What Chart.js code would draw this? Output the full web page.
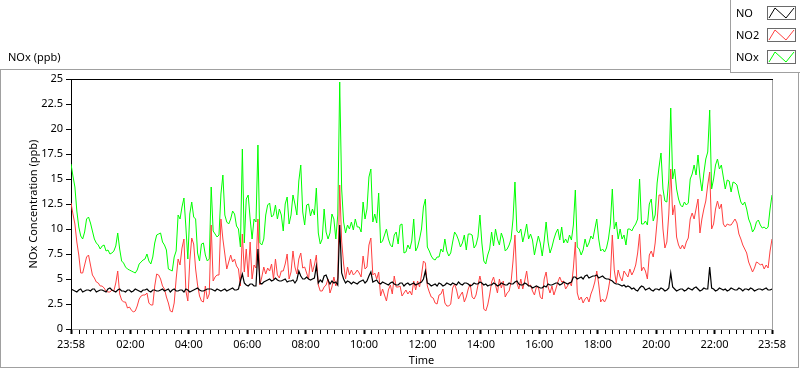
<!DOCTYPE html>
<html>
<head>
<meta charset="utf-8">
<script src="https://cdn.jsdelivr.net/npm/chart.js@4.4.0/dist/chart.umd.min.js"></script>
<style>
  html, body { margin: 0; padding: 0; background: #fff; }
</style>
</head>
<body>
<canvas id="myChart" width="800" height="369"></canvas>
<script>
// one reading every 4 minutes, starting 23:58
const stepMinutes = 4;

const noValues = [
  4.0,3.9,3.8,3.7,3.9,4.0,3.7,3.8,3.9,3.9,3.8,4.0,4.0,3.7,3.8,3.9,3.9,3.8,3.7,4.0,4.1,3.9,3.8,3.7,3.9,4.0,3.8,3.8,3.7,3.9,3.9,3.7,3.8,4.0,3.9,3.8,
  3.7,3.9,3.9,4.0,3.8,3.7,3.9,3.9,3.8,3.8,3.9,4.0,3.8,3.9,4.0,3.7,3.9,4.0,3.8,3.8,3.9,3.9,3.7,4.0,3.9,3.7,3.8,3.9,4.0,4.1,3.9,3.8,3.8,3.9,4.0,4.0,
  4.0,3.9,3.8,4.0,3.9,3.8,3.9,4.0,3.8,3.9,4.0,4.1,3.9,3.9,4.0,4.8,5.5,4.6,4.4,4.3,4.5,4.5,4.3,4.3,8.0,4.6,4.5,4.7,4.8,4.9,5.0,4.8,4.9,5.1,4.9,4.8,
  4.8,4.9,5.0,4.7,4.8,4.8,4.9,4.6,4.9,5.8,5.3,5.0,5.0,5.2,5.0,4.9,5.0,5.1,6.3,4.6,4.9,4.7,5.3,5.4,4.9,4.5,4.8,4.6,4.7,4.4,10.4,5.6,5.0,4.6,4.8,4.7,
  4.5,4.7,4.6,4.5,4.7,4.8,4.9,4.6,4.8,5.3,5.7,4.7,4.8,4.9,4.6,4.5,4.7,4.6,4.5,4.4,4.6,4.7,4.5,4.4,4.4,4.6,4.6,4.3,4.5,4.6,4.4,4.5,4.6,4.4,4.5,4.6,
  4.7,5.0,5.8,4.6,4.5,4.3,4.4,4.5,4.3,4.6,4.5,4.3,4.4,4.6,4.5,4.4,4.6,4.5,4.4,4.7,4.5,4.4,4.6,4.6,4.5,4.3,4.4,4.6,4.5,4.5,4.7,4.6,4.4,4.5,4.3,4.4,
  4.4,4.6,4.5,4.3,4.4,4.6,4.5,4.4,4.4,4.6,4.5,4.5,4.7,4.8,4.5,4.4,4.4,4.6,4.5,4.3,4.3,4.1,4.2,4.3,4.2,4.1,4.1,4.3,4.2,4.5,4.4,4.4,4.5,4.6,4.6,4.4,
  4.5,4.7,4.6,4.5,4.6,4.7,5.2,5.2,5.0,5.1,5.2,5.0,5.3,5.4,5.1,5.2,5.3,5.3,5.4,5.1,5.2,5.3,5.1,5.0,5.0,4.9,4.8,4.6,4.5,4.5,4.4,4.3,4.4,4.2,4.3,4.2,
  4.0,4.1,3.9,3.8,4.1,4.3,4.2,3.9,4.0,4.1,3.9,3.8,4.0,4.0,3.9,4.1,4.0,3.8,3.9,4.1,5.6,4.2,4.0,3.8,3.9,4.0,4.0,3.8,3.9,4.1,4.0,3.9,4.1,4.2,4.0,3.8,
  3.9,4.1,4.0,4.0,6.2,4.1,4.0,3.8,3.9,4.1,4.0,3.9,4.0,3.8,3.9,4.1,4.0,3.9,3.9,4.1,4.0,3.8,4.0,4.0,3.9,4.1,4.0,3.8,3.9,4.0,4.0,3.9,4.0,4.1,3.9,3.9,
  4.0
];

const no2Values = [
  12.6,11.5,10.5,8.7,7.4,5.6,5.6,6.4,7.2,7.4,6.4,5.4,5.1,4.7,4.6,4.3,4.3,4.1,3.8,3.7,3.7,3.9,3.8,4.6,5.8,3.5,2.9,2.7,2.7,2.1,2.2,1.9,1.7,1.8,2.3,3.0,
  3.3,3.4,3.4,3.6,2.6,2.4,2.4,4.3,5.5,5.4,5.0,4.3,4.0,3.2,2.6,1.8,1.7,2.6,5.0,7.0,6.4,8.1,9.0,3.8,2.8,6.8,9.1,8.5,6.0,4.4,3.3,2.8,2.7,4.3,3.0,3.5,
  10.4,4.8,5.2,5.4,5.4,11.0,9.0,7.5,6.0,6.7,7.4,6.7,7.0,6.3,6.0,4.3,9.5,5.7,8.0,5.2,8.7,5.0,6.4,6.1,11.0,4.4,5.2,6.2,5.5,6.1,5.8,6.5,5.0,7.0,5.4,5.1,
  5.8,5.8,6.5,7.5,5.0,5.7,7.8,6.2,5.5,7.0,7.6,6.1,6.2,5.6,5.0,7.0,5.7,6.4,7.4,4.4,3.8,3.8,4.2,4.4,5.0,3.6,4.2,5.2,4.3,5.1,14.4,8.8,6.5,5.0,6.2,5.4,
  5.9,5.4,5.6,5.9,5.6,5.2,7.3,6.0,6.2,8.4,9.1,5.4,5.6,5.0,5.7,3.3,4.0,3.4,2.8,3.9,4.4,3.5,5.3,4.2,4.2,4.3,3.3,3.6,3.9,3.5,3.8,3.4,4.8,3.9,4.8,4.2,
  5.4,6.8,6.6,4.3,3.7,3.2,3.1,2.6,2.5,3.4,3.5,4.0,2.6,2.3,2.3,2.5,4.1,4.5,3.9,3.0,3.4,3.7,2.7,3.2,4.0,4.5,3.2,3.0,3.4,4.4,5.3,4.4,2.0,1.8,2.4,3.4,
  4.7,5.2,4.4,3.6,5.0,4.1,4.8,3.2,3.6,3.8,4.7,6.8,9.4,4.6,4.0,5.0,4.0,4.8,5.8,4.3,4.4,3.8,3.4,4.2,4.2,3.2,3.0,5.0,5.7,4.2,3.6,4.3,3.4,4.0,4.7,5.2,
  4.7,4.8,4.0,4.3,4.7,4.3,6.1,8.7,3.6,2.9,3.2,2.6,3.0,3.2,2.7,3.5,4.0,4.7,5.8,4.5,2.7,3.0,2.7,3.1,4.0,5.2,9.4,5.9,4.6,5.9,5.2,4.8,5.8,5.5,5.2,6.0,
  5.4,5.8,6.4,7.6,9.5,5.8,6.2,5.8,5.0,7.4,7.8,7.2,8.6,10.8,13.4,13.4,10.0,8.1,8.7,11.5,16.0,11.4,12.4,9.2,8.4,8.0,8.4,8.0,8.7,9.1,11.0,11.6,11.0,12.0,13.0,9.6,
  11.0,12.0,12.8,14.4,15.7,10.0,10.5,12.0,12.8,12.0,12.5,10.5,10.2,10.5,10.4,10.4,10.7,11.0,10.6,9.5,9.0,8.4,8.0,7.6,6.7,6.2,5.7,6.1,6.7,6.6,6.4,6.5,6.0,6.4,6.1,7.8,
  9.0
];

const noxValues = [
  16.5,15.3,14.2,11.8,10.2,9.3,9.0,9.7,11.0,11.2,10.6,9.8,9.0,8.6,8.4,8.0,8.3,8.4,7.8,7.9,7.5,7.6,7.8,8.3,9.6,8.0,6.8,6.6,6.2,6.0,5.9,5.8,5.7,5.6,5.9,6.5,
  6.7,6.9,7.0,7.5,6.8,6.5,7.2,8.6,9.4,9.5,9.6,8.7,8.4,7.9,6.0,5.9,5.8,7.2,7.8,11.4,11.0,12.2,13.1,10.2,7.0,11.5,12.7,11.2,11.0,7.6,6.8,8.5,8.6,7.4,6.8,7.0,
  14.2,9.8,9.5,9.2,9.4,13.5,15.4,11.4,10.7,10.5,11.0,11.8,11.5,10.3,10.0,8.2,18.0,8.6,13.0,13.4,11.0,9.0,11.0,10.7,18.4,8.6,8.4,9.0,11.4,12.4,12.6,11.2,11.4,12.4,11.0,12.0,
  11.4,9.8,12.5,13.2,10.5,11.4,13.4,12.5,11.4,14.8,16.4,11.7,10.4,12.4,12.5,11.3,12.0,11.4,14.1,9.6,8.5,9.0,12.0,9.7,9.0,9.6,11.5,11.0,9.0,11.4,24.7,14.0,10.7,9.6,10.4,10.0,
  10.7,9.9,11.0,10.2,10.2,9.7,12.7,11.0,12.0,15.2,16.0,10.7,11.5,10.6,13.6,8.6,8.8,9.4,10.0,9.0,8.4,8.2,9.4,9.7,8.5,10.4,10.5,7.6,7.7,8.4,8.0,8.8,11.0,7.8,8.2,9.0,
  10.0,12.2,13.0,8.2,7.8,7.3,7.0,6.9,7.2,7.2,8.0,7.7,9.0,7.8,7.3,7.6,8.7,9.7,9.4,8.9,8.2,8.6,9.4,7.9,9.5,9.5,9.4,8.1,8.4,9.2,11.4,8.6,6.8,6.5,7.4,8.0,
  9.7,8.3,10.0,9.0,8.4,9.6,9.0,7.8,8.0,8.4,9.0,11.0,14.7,9.8,9.6,10.0,8.7,9.5,10.5,9.0,9.5,8.9,7.4,8.4,9.3,8.6,7.3,8.8,10.7,8.7,7.6,8.2,9.0,9.6,10.0,8.9,
  10.2,8.6,9.0,8.6,9.4,8.9,10.4,13.9,8.2,8.0,7.4,7.9,9.0,8.2,8.6,9.3,9.0,10.0,11.0,9.0,7.8,8.0,7.7,8.1,9.0,10.5,14.0,10.0,10.7,9.0,10.0,9.0,9.4,8.4,10.0,10.0,
  9.8,10.2,10.5,11.0,15.0,10.5,10.5,10.8,10.4,12.5,13.0,10.8,11.4,14.6,16.2,17.6,14.0,12.8,12.7,15.0,22.1,15.0,16.0,14.0,13.0,12.4,12.2,12.7,12.4,12.6,15.0,15.5,16.4,15.4,17.4,15.2,
  13.8,15.6,17.0,17.7,21.9,14.0,15.0,16.4,17.0,16.0,16.4,15.2,14.0,14.9,14.8,13.7,14.7,14.6,14.4,13.5,12.7,12.4,12.7,12.0,11.0,10.5,9.7,10.0,10.7,10.9,10.4,10.1,10.2,10.0,10.2,12.0,
  13.4
];

const seriesNames = ['NO', 'NO2', 'NOx'];

// x tick labels and their offset in minutes from 23:58
const tickLabels = ['23:58','02:00','04:00','06:00','08:00','10:00','12:00','14:00','16:00','18:00','20:00','22:00','23:58'];
const tickMinutes = [0,122,242,362,482,602,722,842,962,1082,1202,1322,1440];

const fontFamily = "'Noto Sans', 'DejaVu Sans', sans-serif";
const font = { family: fontFamily, size: 11 };

function toPoints(values) {
    return values.map((v, i) => ({ x: i * stepMinutes, y: v }));
}

// minor ticks every quarter hour on the clock
let allTicks = [...tickMinutes];
for (let m = 2; m < 1440; m += 15) {
    if (!tickMinutes.includes(m)) allTicks.push(m);
}
allTicks.sort((a, b) => a - b);

const framePlugin = {
    id: 'frame',
    beforeDraw(chart) {
        const c = chart.ctx;
        c.save();
        c.fillStyle = '#fff';
        c.fillRect(0, 0, chart.width, chart.height);
        c.strokeStyle = '#a0a0a0';
        c.lineWidth = 1;
        c.strokeRect(0.5, 69.5, 798, 298);
        c.restore();
    },
    afterDraw(chart) {
        const c = chart.ctx;
        const a = chart.chartArea;
        c.save();
        c.lineWidth = 1;
        c.strokeStyle = '#000';
        c.beginPath(); c.moveTo(a.left, a.top + 0.5); c.lineTo(a.right + 1, a.top + 0.5); c.stroke();
        c.strokeStyle = '#a0a0a0';
        c.beginPath(); c.moveTo(a.right + 0.5, a.top + 1); c.lineTo(a.right + 0.5, a.bottom); c.stroke();

        c.font = `${font.size}px ${fontFamily}`;
        c.fillStyle = '#000';
        c.textBaseline = 'middle';
        c.textAlign = 'left';
        c.fillText('NOx (ppb)', 8, 58);

        // legend box
        c.fillStyle = '#fff';
        c.fillRect(730, 0, 70, 72);
        c.strokeStyle = '#a0a0a0';
        c.strokeRect(730.5, -0.5, 70, 73);
        const rows = [13, 35, 57];
        chart.data.datasets.forEach((ds, i) => {
            const cy = rows[i];
            c.fillStyle = '#000';
            c.fillText(ds.label, 736, cy + 1);
            c.strokeStyle = '#6a6a6a';
            c.strokeRect(767.5, cy - 6.5, 28, 13);
            c.strokeStyle = ds.borderColor;
            c.beginPath();
            c.moveTo(769, cy + 5); c.lineTo(775, cy - 5); c.lineTo(786, cy + 5); c.lineTo(794, cy - 5);
            c.stroke();
        });
        c.restore();
    }
};

new Chart(document.getElementById('myChart'), {
    type: 'line',
    data: {
        datasets: [
            { label: seriesNames[0], data: toPoints(noValues), borderColor: '#000000', borderWidth: 1.2 },
            { label: seriesNames[1], data: toPoints(no2Values), borderColor: '#ff4040', borderWidth: 1 },
            { label: seriesNames[2], data: toPoints(noxValues), borderColor: '#00ff00', borderWidth: 1 }
        ]
    },
    options: {
        responsive: false,
        animation: false,
        devicePixelRatio: 1,
        elements: { point: { radius: 0 }, line: { tension: 0 } },
        layout: { padding: { top: 79, right: 28, bottom: 0, left: 0 } },
        plugins: { legend: { display: false }, tooltip: { enabled: false } },
        scales: {
            x: {
                type: 'linear',
                min: 0,
                max: 1440,
                afterFit(scale) { scale.height = 40; },
                afterBuildTicks(scale) { scale.ticks = allTicks.map(v => ({ value: v })); },
                ticks: {
                    autoSkip: false,
                    maxRotation: 0,
                    minRotation: 0,
                    padding: 4,
                    color: '#000',
                    font: font,
                    callback: (value) => {
                        const i = tickMinutes.indexOf(value);
                        return i >= 0 ? tickLabels[i] : '';
                    }
                },
                grid: {
                    drawOnChartArea: false,
                    tickLength: 5,
                    tickWidth: (ctx) => (ctx.tick && tickMinutes.includes(ctx.tick.value)) ? 2 : 1,
                    tickColor: '#000'
                },
                border: { display: true, color: '#a0a0a0' },
                title: { display: true, text: 'Time', color: '#000', font: font, padding: { top: 0, bottom: 2 } }
            },
            y: {
                min: 0,
                max: 25,
                afterFit(scale) { scale.width = 71; },
                ticks: { stepSize: 2.5, color: '#000', font: font, padding: 3 },
                grid: { drawOnChartArea: false, tickLength: 5, tickColor: '#000' },
                border: { display: true, color: '#000' },
                title: { display: true, text: 'NOx Concentration (ppb)', color: '#000', font: font, padding: { top: 27, bottom: 0 } }
            }
        }
    },
    plugins: [framePlugin]
});
</script>
</body>
</html>
